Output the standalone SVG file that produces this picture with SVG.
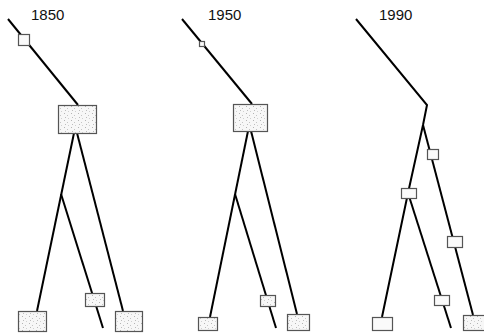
<svg xmlns="http://www.w3.org/2000/svg" width="484" height="336" viewBox="0 0 484 336">
<defs>
<pattern id="stip" width="7" height="7" patternUnits="userSpaceOnUse">
<rect width="7" height="7" fill="#f7f7f7"/>
<rect x="1" y="1" width="1" height="1" fill="#b4b4b4"/>
<rect x="4" y="3" width="1" height="1" fill="#c4c4c4"/>
<rect x="2" y="5" width="1" height="1" fill="#bcbcbc"/>
<rect x="5" y="6" width="1" height="1" fill="#d0d0d0"/>
</pattern>
</defs>
<style>
.ln{stroke:#000;stroke-width:2;fill:none;stroke-linejoin:miter}
.bx{fill:url(#stip);stroke:#555;stroke-width:1.2}
.sb{fill:#fafafa;stroke:#555;stroke-width:1.2}
.lb{font-family:"Liberation Sans",Arial,sans-serif;font-size:15px;fill:#111}
</style>
<rect width="484" height="336" fill="#fff"/>
<g id="connectors">
<line class="ln" x1="8" y1="19" x2="78" y2="105"/>
<line class="ln" x1="74" y1="133" x2="37" y2="311"/>
<line class="ln" x1="77" y1="133" x2="123" y2="311"/>
<line class="ln" x1="61" y1="194" x2="103" y2="328"/>
<line class="ln" x1="182" y1="19" x2="252" y2="104"/>
<line class="ln" x1="248" y1="131" x2="210" y2="317"/>
<line class="ln" x1="251" y1="131" x2="297" y2="314"/>
<line class="ln" x1="235" y1="194" x2="276" y2="328"/>
<polyline class="ln" points="356,19 427,105 423,125"/>
<polyline class="ln" points="423,125 408,193 382,317"/>
<line class="ln" x1="408" y1="193" x2="451" y2="328"/>
<line class="ln" x1="423" y1="125" x2="473" y2="315"/>
</g>
<g id="p1850">
<text class="lb" x="31" y="20">1850</text>
<rect id="n1850a" class="sb" x="18.5" y="34.5" width="11" height="11"/>
<rect id="n1850b" class="bx" x="58.5" y="105.5" width="38" height="28"/>
<rect id="n1850c" class="bx" x="18.5" y="311.5" width="28" height="20"/>
<rect id="n1850d" class="bx" x="85.5" y="293.5" width="19" height="13"/>
<rect id="n1850e" class="bx" x="115.5" y="311.5" width="27" height="20"/>
</g>
<g id="p1950">
<text class="lb" x="208" y="20">1950</text>
<rect id="n1950a" class="sb" x="199.5" y="41.5" width="5" height="5"/>
<rect id="n1950b" class="bx" x="233.5" y="104.5" width="34" height="27"/>
<rect id="n1950c" class="bx" x="198.5" y="317.5" width="19" height="13"/>
<rect id="n1950d" class="bx" x="260.5" y="295.5" width="15" height="11"/>
<rect id="n1950e" class="bx" x="287.5" y="314.5" width="22" height="16"/>
</g>
<g id="p1990">
<text class="lb" x="379" y="20">1990</text>
<rect id="n1990a" class="sb" x="427.5" y="149.5" width="11" height="10"/>
<rect id="n1990b" class="sb" x="401.5" y="188.5" width="15" height="10"/>
<rect id="n1990c" class="sb" x="447.5" y="236.5" width="15" height="11"/>
<rect id="n1990d" class="sb" x="434.5" y="295.5" width="15" height="10"/>
<rect id="n1990e" class="sb" x="372.5" y="317.5" width="20" height="13"/>
<rect id="n1990f" class="bx" x="463.5" y="315.5" width="22" height="15"/>
</g>
</svg>
